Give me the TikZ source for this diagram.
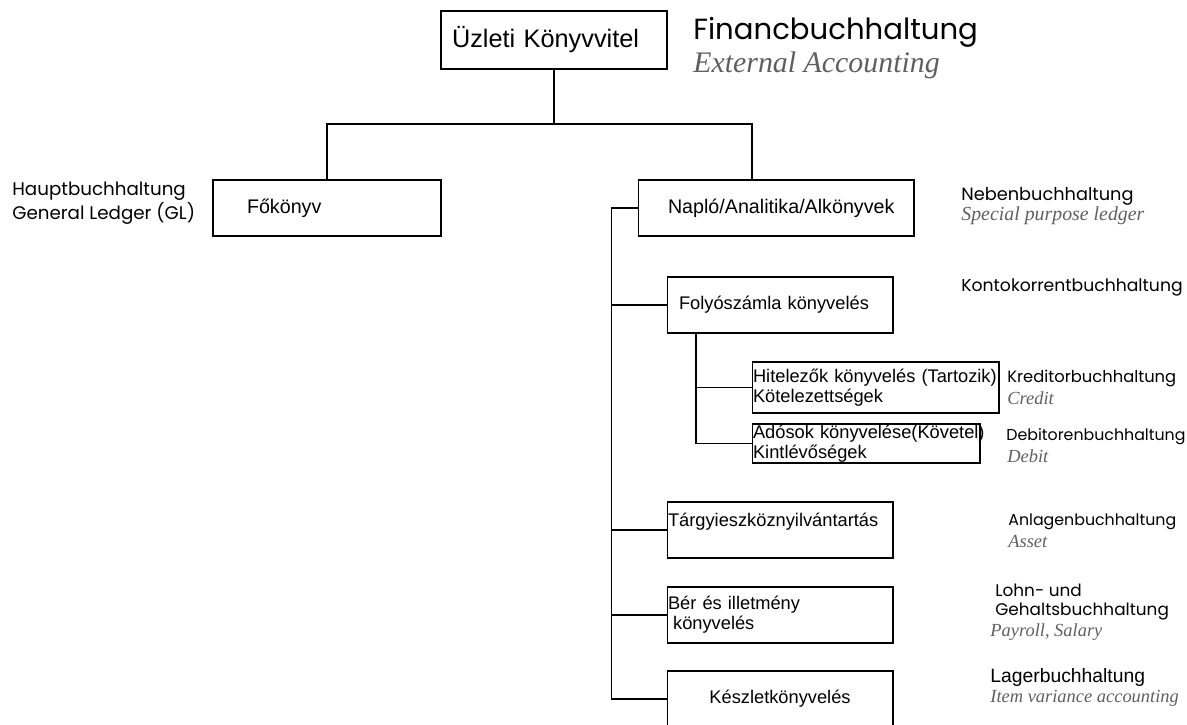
\documentclass[tikz,border=0pt]{standalone}
\usepackage{fontspec}
\setmainfont{Liberation Sans}
\newfontfamily\comicfont{Poppins}
\newfontfamily\handfont{Liberation Serif}
\usetikzlibrary{positioning}
\definecolor{handgray}{RGB}{95,95,95}
\tikzset{
  box/.style={draw, rectangle, inner sep=0pt, line width=0.6pt, align=left,
              minimum width=4.52cm, minimum height=1.12cm, text width=4.48cm,
              font=\fontsize{10.4}{11.4}\selectfont},
  bigbox/.style={box, font=\fontsize{11.2}{13}\selectfont},
  delabel/.style={anchor=west, inner sep=0pt, align=left,
                  font=\comicfont\fontsize{9.3}{10.8}\selectfont},
  enlabel/.style={anchor=west, inner sep=0pt, text=handgray,
                  font=\handfont\itshape\fontsize{10.5}{12}\selectfont},
  link/.style={line width=0.6pt},
}
\begin{document}
\begin{tikzpicture}[x=0.02cm, y=-0.02cm]
\useasboundingbox (0,0) rectangle (1187,724);
% boxes
\node[box, font=\fontsize{14.4}{16}\selectfont, minimum width=4.52cm, minimum height=1.16cm, text width=4.08cm] (konyv) at (554,40) {Üzleti Könyvvitel};
\node[bigbox, minimum width=4.56cm, text width=3.2cm] (fokonyv) at (327,208) {Főkönyv};
\node[bigbox, minimum width=5.52cm, text width=4.32cm] (naplo) at (776,208) {Napló/Analitika/Alkönyvek};
\node[box, text width=4.04cm] (folyo) at (780,305) {Folyószámla könyvelés};
\node[box, minimum width=4.94cm, minimum height=1.02cm, text width=4.9cm] (hitel) at (875.5,387.5) {\mbox{Hitelezők könyvelés (Tartozik)}\\Kötelezettségek};
\node[box, minimum width=4.56cm, minimum height=0.78cm, text width=4.52cm] (ados) at (866,443.5) {\mbox{Adósok könyvelése(Követel)}\\Kintlévőségek};
\node[box] (targyi) at (780,530) {Tárgyieszköznyilvántartás\\\mbox{}};
\node[box] (ber) at (780,615) {Bér és illetmény\\\hspace*{0.28em}könyvelés};
\node[box, align=center] (kesz) at (780,699) {Készletkönyvelés};
% connectors
\coordinate (split) at (554,124);
\draw[link] (konyv.south) -- (split);
\draw[link] (fokonyv.north) |- (split) -| ([xshift=-0.48cm]naplo.north);
\draw[link] (naplo.west) -- ++(-26,0) |- (kesz.west);
\foreach \n in {folyo,targyi,ber}
  \draw[link] (\n.west) -- ++(-55,0);
\draw[link] ([xshift=-1.68cm]folyo.south) |- (ados.west);
\draw[link] (hitel.west) -- ++(-56,0);
% labels
\node[delabel, font=\comicfont\fontsize{16.6}{19}\selectfont] (fin) at (693,32) {Financbuchhaltung};
\node[enlabel, font=\handfont\itshape\fontsize{17}{19}\selectfont] (finen) at (693,65) {External Accounting};
\node[delabel, font=\comicfont\fontsize{10.4}{11.4}\selectfont] (haupt) at (12,203) {Hauptbuchhaltung\\General Ledger (GL)};
\node[delabel, font=\comicfont\fontsize{10.1}{12}\selectfont] (neben) at (961,196) {Nebenbuchhaltung};
\node[enlabel, font=\handfont\itshape\fontsize{11.3}{12}\selectfont] (nebenen) at (961,216) {Special purpose ledger};
\node[delabel, font=\comicfont\fontsize{9.8}{11}\selectfont] (konto) at (961,287) {Kontokorrentbuchhaltung};
\node[delabel] (kred) at (1007,378) {Kreditorbuchhaltung};
\node[enlabel] (kreden) at (1007,398) {Credit};
\node[delabel, font=\comicfont\fontsize{9}{11}\selectfont] (deb) at (1006,437) {Debitorenbuchhaltung};
\node[enlabel] (deben) at (1007,456) {Debit};
\node[delabel, font=\comicfont\fontsize{9}{11}\selectfont] (anl) at (1008,522) {Anlagenbuchhaltung};
\node[enlabel] (anlen) at (1008,541) {Asset};
\node[delabel, font=\comicfont\fontsize{9.6}{10.8}\selectfont] (lohn) at (995,602.5) {Lohn- und\\Gehaltsbuchhaltung};
\node[enlabel] (lohnen) at (990,632) {Payroll, Salary};
\node[delabel, font=\fontsize{11}{12}\selectfont] (lager) at (990,677) {Lagerbuchhaltung};
\node[enlabel] (lageren) at (990,698) {Item variance accounting};
\end{tikzpicture}
\end{document}
